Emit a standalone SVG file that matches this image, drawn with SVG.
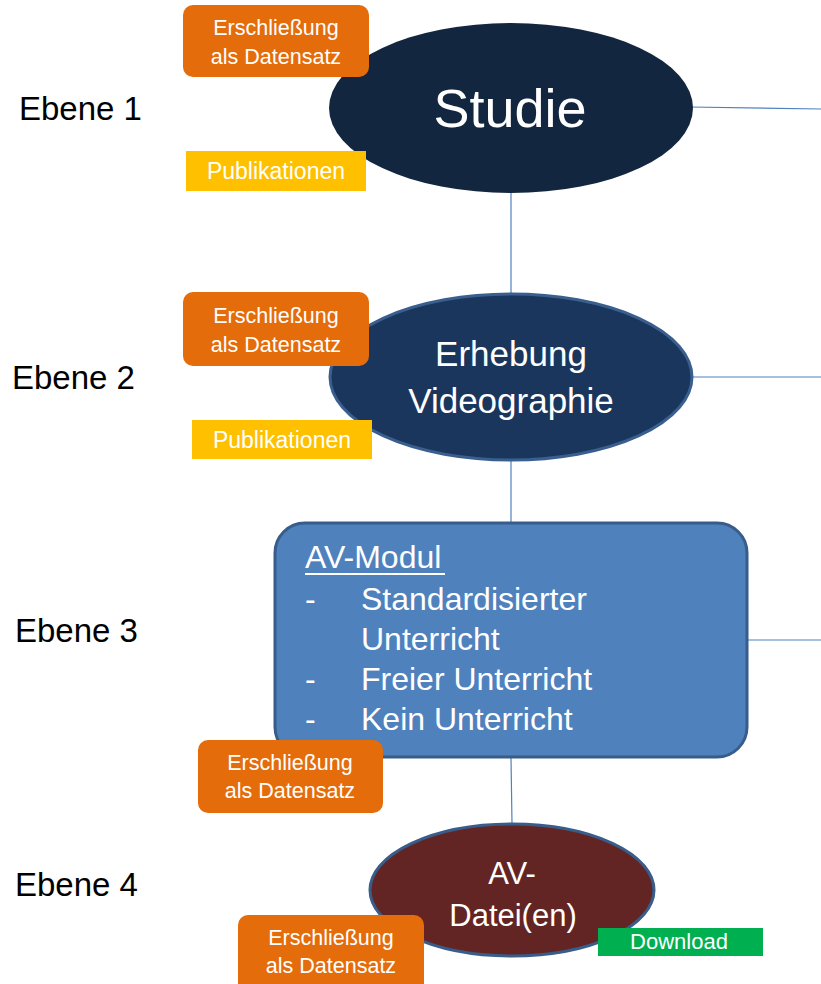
<svg xmlns="http://www.w3.org/2000/svg" width="821" height="984" viewBox="0 0 821 984">
<style>
text{font-family:"Liberation Sans",Arial,sans-serif;}
.w{fill:#ffffff;}
.c{text-anchor:middle;}
.lbl{font-size:33px;fill:#000000;}
.tag{fill:#E46C0A;}
.tagt{font-size:21.5px;fill:#ffffff;text-anchor:middle;}
.pub{fill:#FFC000;}
.pubt{font-size:23px;fill:#ffffff;text-anchor:middle;}
.conn{stroke:#4F81BD;stroke-width:1.2;fill:none;}
.mod{font-size:32px;fill:#ffffff;}
</style>
<rect width="821" height="984" fill="#ffffff"/>
<g id="connectors">
<line class="conn" x1="511" y1="190" x2="511" y2="296"/>
<line class="conn" x1="690" y1="107" x2="821" y2="109"/>
<line class="conn" x1="511" y1="460" x2="511" y2="523"/>
<line class="conn" x1="688" y1="377" x2="821" y2="377"/>
<line class="conn" x1="746" y1="640" x2="821" y2="640"/>
<line class="conn" x1="511" y1="757" x2="512" y2="824"/>
</g>
<g id="labels">
<text class="lbl" x="19" y="120">Ebene 1</text>
<text class="lbl" x="12" y="389">Ebene 2</text>
<text class="lbl" x="15" y="642">Ebene 3</text>
<text class="lbl" x="15" y="896">Ebene 4</text>
</g>
<g id="studie">
<ellipse cx="511" cy="108" rx="182" ry="85" fill="#12263F"/>
<text class="w c" x="510" y="127" font-size="54">Studie</text>
</g>
<g id="studie-erschliessung">
<rect class="tag" x="183" y="5" width="186" height="72" rx="10"/>
<text class="tagt" x="276" y="35">Erschließung</text>
<text class="tagt" x="276" y="64">als Datensatz</text>
</g>
<g id="studie-publikationen">
<rect class="pub" x="186" y="151" width="180" height="40"/>
<text class="pubt" x="276" y="179">Publikationen</text>
</g>
<g id="erhebung">
<ellipse cx="511" cy="377" rx="181" ry="83" fill="#1A365D" stroke="#3A5F8F" stroke-width="3"/>
<text class="w c" x="511" y="366" font-size="35">Erhebung</text>
<text class="w c" x="511" y="413" font-size="35">Videographie</text>
</g>
<g id="erhebung-erschliessung">
<rect class="tag" x="183" y="292" width="186" height="74" rx="10"/>
<text class="tagt" x="276" y="323">Erschließung</text>
<text class="tagt" x="276" y="352">als Datensatz</text>
</g>
<g id="erhebung-publikationen">
<rect class="pub" x="192" y="420" width="180" height="39"/>
<text class="pubt" x="282" y="448">Publikationen</text>
</g>
<g id="av-modul">
<rect x="275" y="523" width="472" height="234" rx="30" fill="#4F81BD" stroke="#385D8A" stroke-width="3"/>
<text class="mod" x="305" y="568">AV-Modul</text>
<line x1="305" y1="574" x2="445" y2="574" stroke="#ffffff" stroke-width="2"/>
<text class="mod" x="305" y="610">-</text>
<text class="mod" x="361" y="610">Standardisierter</text>
<text class="mod" x="361" y="650">Unterricht</text>
<text class="mod" x="305" y="690">-</text>
<text class="mod" x="361" y="690">Freier Unterricht</text>
<text class="mod" x="305" y="730">-</text>
<text class="mod" x="361" y="730">Kein Unterricht</text>
</g>
<g id="av-modul-erschliessung">
<rect class="tag" x="198" y="740" width="185" height="73" rx="10"/>
<text class="tagt" x="290" y="770">Erschließung</text>
<text class="tagt" x="290" y="798">als Datensatz</text>
</g>
<g id="av-datei">
<ellipse cx="512" cy="890" rx="142" ry="66" fill="#632523" stroke="#385D8A" stroke-width="3"/>
<text class="w c" x="512" y="884" font-size="31">AV-</text>
<text class="w c" x="513" y="926" font-size="31">Datei(en)</text>
</g>
<g id="av-datei-erschliessung">
<rect class="tag" x="238" y="915" width="186" height="80" rx="10"/>
<text class="tagt" x="331" y="945">Erschließung</text>
<text class="tagt" x="331" y="973">als Datensatz</text>
</g>
<g id="download">
<rect x="598" y="928" width="165" height="28" fill="#00B050"/>
<text class="c" x="679" y="949" font-size="22" fill="#ffffff">Download</text>
</g>
</svg>
